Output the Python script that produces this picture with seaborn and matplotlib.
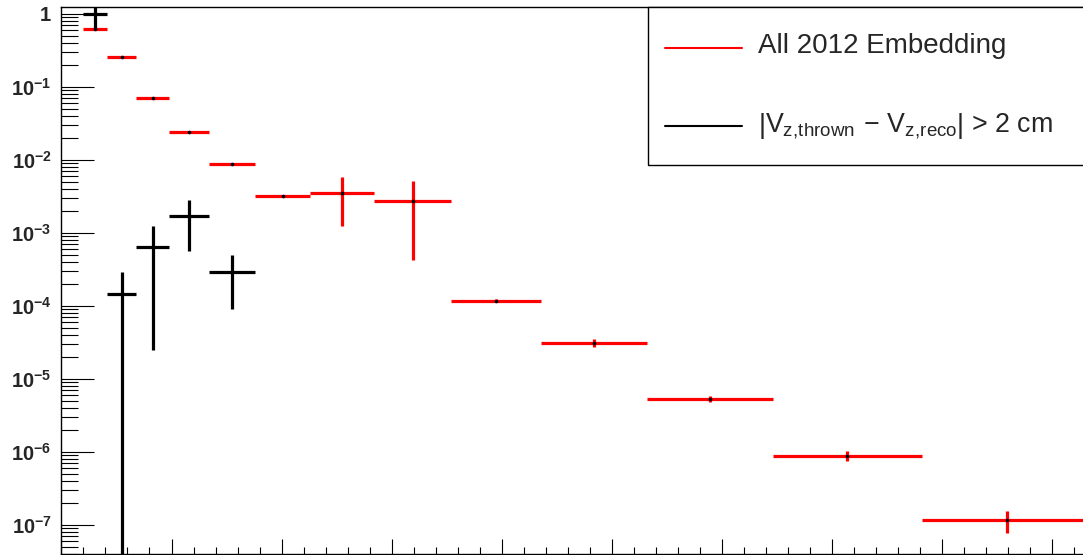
import matplotlib
matplotlib.use('Agg')
import matplotlib.pyplot as plt
import matplotlib.ticker as mticker
from matplotlib.lines import Line2D
from matplotlib.legend_handler import HandlerLine2D
import seaborn as sns
import numpy as np

# bin edges (x axis units, no labels visible in the reference)
bin_edges = [0.199, 0.417, 0.678, 0.977, 1.338, 1.761, 2.258, 2.839,
             3.541, 4.359, 5.319, 6.459, 7.815, 9.37]

# all 2012 embedding (red)
embed_vals = [0.621, 0.254, 0.0698, 0.0239, 0.00887, 3.17e-3, 3.55e-3,
              2.76e-3, 1.18e-4, 3.13e-5, 5.31e-6, 8.87e-7, 1.156e-7]
embed_errs = [0.004, 0.0015, 0.0006, 0.0002, 0.0001, 0.00004, 2.32e-3,
              2.33e-3, 5.6e-6, 3.7e-6, 5.3e-7, 1.3e-7, 3.8e-8]

# |Vz,thrown - Vz,reco| > 2 cm (black), first five bins only
vz_vals = [1.0, 1.46e-4, 6.41e-4, 1.705e-3, 2.94e-4]
vz_errs = [0.385, 1.46e-4, 6.16e-4, 1.14e-3, 2.03e-4]

labels = ['All 2012 Embedding',
          r'$\left|V_{z,\!thrown}\/-\/V_{z,\!reco}\right|$ > 2 cm']

sns.set_style('white')
plt.rcParams['font.family'] = ['Liberation Sans', 'DejaVu Sans']
plt.rcParams['mathtext.fontset'] = 'custom'
plt.rcParams['mathtext.rm'] = 'Liberation Sans'
plt.rcParams['mathtext.it'] = 'Liberation Sans'
plt.rcParams['mathtext.bf'] = 'Liberation Sans:bold'


class LoweredLine(HandlerLine2D):
    # legend line a bit lower and reaching a bit further left than default
    def create_artists(self, legend, orig_handle, xdescent, ydescent,
                       width, height, fontsize, trans):
        arts = super().create_artists(legend, orig_handle, xdescent, ydescent,
                                      width, height, fontsize, trans)
        for a in arts:
            x = np.asarray(a.get_xdata(), dtype=float).copy()
            x[x == x.min()] -= 4.75
            a.set_xdata(x)
            a.set_ydata(np.asarray(a.get_ydata()) - 3.95)
        return arts


W, H = 1083, 555
fig = plt.figure(figsize=(W / 100, H / 100), dpi=100)
# axes run past the right edge of the picture (cropped like the reference)
ax = fig.add_axes([61.4 / W, 1.0 / H, 1101.0 / W, 546.7 / H])

edges = np.array(bin_edges)
centers = (edges[:-1] + edges[1:]) / 2
halfw = (edges[1:] - edges[:-1]) / 2

ax.errorbar(centers, embed_vals, xerr=halfw, yerr=embed_errs, fmt='o',
            ms=1.6, mfc='black', mec='black', ecolor='red',
            elinewidth=2.3, capsize=0, zorder=3)
n = len(vz_vals)
ax.errorbar(centers[:n], vz_vals, xerr=halfw[:n], yerr=vz_errs, fmt='o',
            ms=1.2, mfc='black', mec='black', ecolor='black',
            elinewidth=2.3, capsize=0, zorder=4)

ax.set_yscale('log')
ax.set_ylim(3.994e-8, 1.231)
ax.set_xlim(0, 10)

ax.xaxis.set_major_locator(mticker.MultipleLocator(1))
ax.xaxis.set_minor_locator(mticker.MultipleLocator(0.2))
ax.yaxis.set_major_locator(mticker.FixedLocator([10.0 ** e for e in range(-7, 1)]))
ax.yaxis.set_minor_locator(mticker.LogLocator(base=10, subs=np.arange(2, 10), numticks=20))


def fmt_log(v, pos):
    e = int(round(np.log10(v)))
    if e == 0:
        return r'$\mathbf{1}$'
    return r'$\mathbf{10^{%d}}$' % e


ax.yaxis.set_major_formatter(mticker.FuncFormatter(fmt_log))
ax.yaxis.set_minor_formatter(mticker.NullFormatter())

ax.tick_params(axis='x', which='major', direction='in', length=10.8, width=0.8,
               color='black', labelbottom=False, bottom=True, top=False)
ax.tick_params(axis='x', which='minor', direction='in', length=5.0, width=0.8,
               color='black', bottom=True, top=False)
ax.tick_params(axis='y', which='major', direction='in', length=24, width=0.8,
               color='black', labelsize=14.5, pad=7, left=True, right=False)
ax.tick_params(axis='y', which='minor', direction='in', length=12, width=0.8,
               color='black', left=True, right=False)

for s in ax.spines.values():
    s.set_color('black')
    s.set_linewidth(1.0)
ax.spines['right'].set_visible(False)

handles = [Line2D([], [], color='red', lw=1.5),
           Line2D([], [], color='black', lw=1.5)]
leg = ax.legend(handles, labels, loc='upper left',
                bbox_to_anchor=(0.533, 0.7085, 0.6, 0.2915), mode='expand',
                borderaxespad=0, borderpad=0.85, fontsize=20,
                handlelength=2.53, handletextpad=0.58, handleheight=1.07,
                labelspacing=1.81, frameon=True, fancybox=False,
                edgecolor='black', framealpha=1,
                handler_map={Line2D: LoweredLine()})
leg.get_frame().set_linewidth(1.0)
leg.get_texts()[1].set_fontsize(19.3)

plt.savefig('out.png', dpi=100)
plt.close()
